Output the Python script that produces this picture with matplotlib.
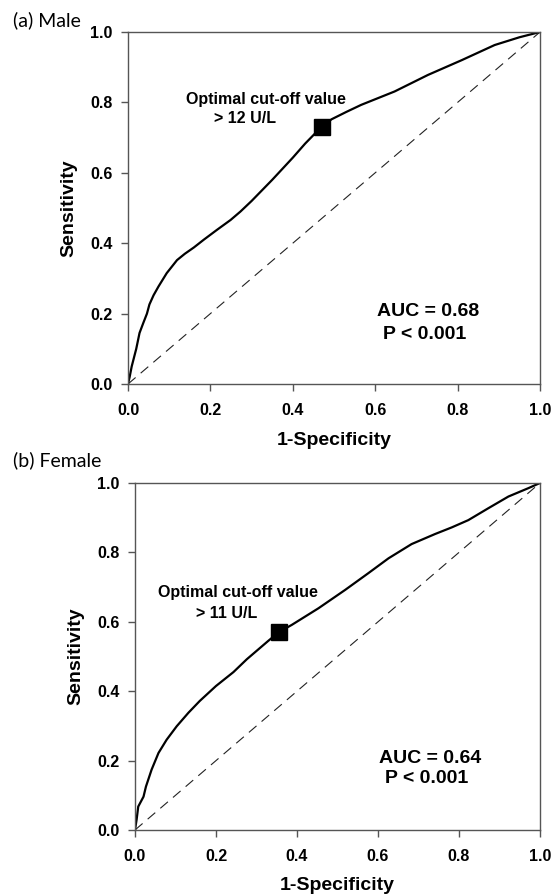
"""ROC curves for male and female subgroups."""

import matplotlib

matplotlib.use("Agg")
import matplotlib.pyplot as plt

# male ROC curve (1-specificity, sensitivity)
male_fpr = [0.0, 0.004, 0.009, 0.02, 0.028, 0.037, 0.046, 0.052, 0.062, 0.074,
            0.094, 0.119, 0.138, 0.16, 0.184, 0.216, 0.249, 0.273, 0.30, 0.35,
            0.40, 0.43, 0.455, 0.47, 0.494, 0.53, 0.566, 0.647, 0.728, 0.81,
            0.89, 0.95, 1.0]
male_tpr = [0.0, 0.02, 0.05, 0.10, 0.145, 0.173, 0.20, 0.226, 0.252, 0.277,
            0.315, 0.352, 0.37, 0.388, 0.41, 0.438, 0.466, 0.49, 0.52, 0.58,
            0.643, 0.683, 0.713, 0.73, 0.752, 0.773, 0.793, 0.831, 0.878, 0.92,
            0.963, 0.985, 1.0]
male_cut = (0.47, 0.73)

# female ROC curve
female_fpr = [0.0, 0.004, 0.008, 0.021, 0.027, 0.041, 0.058, 0.078, 0.103, 0.132,
              0.16, 0.2, 0.243, 0.276, 0.329, 0.355, 0.387, 0.453, 0.519, 0.576,
              0.626, 0.683, 0.741, 0.782, 0.823, 0.872, 0.922, 0.971, 1.0]
female_tpr = [0.0, 0.03, 0.0675, 0.096, 0.125, 0.174, 0.222, 0.26, 0.299, 0.338,
              0.372, 0.415, 0.455, 0.492, 0.545, 0.57, 0.591, 0.639, 0.692, 0.74,
              0.783, 0.824, 0.853, 0.872, 0.893, 0.927, 0.961, 0.985, 1.0]
female_cut = (0.355, 0.57)

ticks = [0.0, 0.2, 0.4, 0.6, 0.8, 1.0]
tick_labels = ["0.0", "0.2", "0.4", "0.6", "0.8", "1.0"]

W, H = 553, 896
BODY = "Liberation Sans"
SPINE = "#555555"


def px_axes(fig, left, top, right, bottom):
    return fig.add_axes([left / W, 1 - bottom / H, (right - left) / W, (bottom - top) / H])


def draw_panel(ax, fpr, tpr, cut, cut_txt, cut_pos, cut_pos2, auc_txt, auc_pos, p_pos):
    ax.plot([0, 1], [0, 1], color="#222222", lw=0.8, ls=(0, (9, 6)))
    ax.plot(fpr, tpr, color="black", lw=1.6, solid_joinstyle="round")
    ax.plot([cut[0]], [cut[1]], marker="s", ms=12, color="black", ls="none")
    ax.set_xlim(0, 1)
    ax.set_ylim(0, 1)
    ax.set_xticks(ticks)
    ax.set_xticklabels(tick_labels, fontfamily=BODY, fontweight="bold", fontsize=11.5)
    ax.set_yticks(ticks)
    ax.set_yticklabels(tick_labels, fontfamily=BODY, fontweight="bold", fontsize=11.5)
    ax.tick_params(axis="x", direction="out", length=5, width=1, color=SPINE, pad=9)
    ax.tick_params(axis="y", direction="out", length=5, width=1, color=SPINE, pad=6)
    for s in ax.spines.values():
        s.set_color(SPINE)
        s.set_linewidth(1.0)
    ax.set_xlabel("1-Specificity", fontfamily=BODY, fontweight="bold", fontsize=14)
    ax.set_ylabel("Sensitivity", fontfamily=BODY, fontweight="bold", fontsize=14)
    ax.text(*cut_pos, "Optimal cut-off value", ha="center", va="center",
            fontfamily=BODY, fontweight="bold", fontsize=11.5)
    ax.text(*cut_pos2, cut_txt, ha="center", va="center",
            fontfamily=BODY, fontweight="bold", fontsize=11.5)
    ax.text(*auc_pos, auc_txt, ha="center", va="center",
            fontfamily=BODY, fontweight="bold", fontsize=14)
    ax.text(*p_pos, "P < 0.001", ha="center", va="center",
            fontfamily=BODY, fontweight="bold", fontsize=14)


fig = plt.figure(figsize=(W / 100, H / 100), dpi=100)
fig.patch.set_facecolor("white")

ax1 = px_axes(fig, 128, 32, 540, 384)
draw_panel(ax1, male_fpr, male_tpr, male_cut, "> 12 U/L",
           (0.335, 0.807), (0.285, 0.753), "AUC = 0.68", (0.728, 0.205), (0.72, 0.142))
ax1.yaxis.set_label_coords(-(128 - 77) / 412, 0.5)
ax1.xaxis.set_label_coords(0.5, -(432 - 384) / 352)

ax2 = px_axes(fig, 135, 483, 540, 830)
draw_panel(ax2, female_fpr, female_tpr, female_cut, "> 11 U/L",
           (0.254, 0.683), (0.225, 0.625), "AUC = 0.64", (0.729, 0.207), (0.721, 0.147))
ax2.yaxis.set_label_coords(-(135 - 84) / 405, 0.5)
ax2.xaxis.set_label_coords(0.5, -(877 - 830) / 347)

fig.text(13 / W, 1 - 20 / H, "(a) Male", ha="left", va="center",
         fontfamily="Lato", fontsize=14)
fig.text(13 / W, 1 - 460 / H, "(b) Female", ha="left", va="center",
         fontfamily="Lato", fontsize=14)

fig.savefig("out.png", dpi=100, facecolor="white")
